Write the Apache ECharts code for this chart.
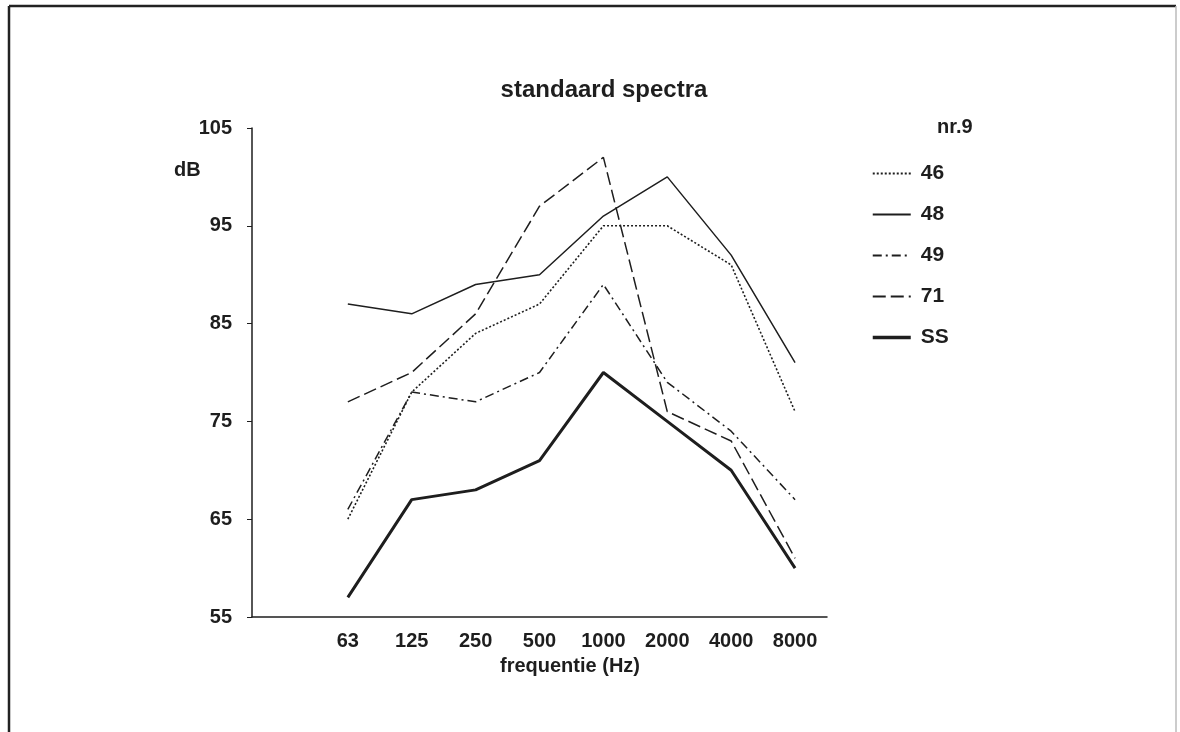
<!DOCTYPE html>
<html>
<head>
<meta charset="utf-8">
<script src="https://cdn.jsdelivr.net/npm/echarts@6/dist/echarts.min.js"></script>
<style>
html,body{margin:0;padding:0;background:#fff;}
#chart{width:1180px;height:732px;}
</style>
</head>
<body>
<div id="chart"></div>
<script>
// categories (first slot is an empty tick position)
const categories = ['', '63', '125', '250', '500', '1000', '2000', '4000', '8000'];
const s46 = [65, 78, 84, 87, 95, 95, 91, 76];
const s48 = [87, 86, 89, 90, 96, 100, 92, 81];
const s49 = [66, 78, 77, 80, 89, 79, 74, 67];
const s71 = [77, 80, 86, 97, 102, 76, 73, 61];
const sSS = [57, 67, 68, 71, 80, 75, 70, 60];
const seriesNames = ['46', '48', '49', '71', 'SS'];
const yTicks = { min: 55, max: 105, interval: 10 };

const FONT = '"Liberation Sans", Arial, sans-serif';
const INK = '#1e1e1e';

function mk(name, vals, width, dash) {
  return {
    name: name,
    type: 'line',
    data: [null].concat(vals),
    symbol: 'none',
    showSymbol: false,
    smooth: false,
    lineStyle: { color: INK, width: width, type: dash },
    itemStyle: { color: INK },
    emphasis: { disabled: true },
    z: name === 'SS' ? 3 : 2
  };
}

const chart = echarts.init(document.getElementById('chart'), null, { renderer: 'canvas' });
chart.setOption({
  animation: false,
  backgroundColor: '#fff',
  title: {
    text: 'standaard spectra',
    left: 599, top: 73, textAlign: 'center',
    textStyle: { fontFamily: FONT, fontWeight: 'bold', fontSize: 24, color: INK }
  },
  grid: { left: 252, right: 353, top: 128, bottom: 115, containLabel: false },
  xAxis: {
    type: 'category',
    data: categories,
    boundaryGap: true,
    axisLine: { lineStyle: { color: INK, width: 1.5 } },
    axisTick: { alignWithLabel: true, interval: 0, length: 5, lineStyle: { color: INK } },
    axisLabel: { interval: 0, margin: 14, fontFamily: FONT, fontWeight: 'bold', fontSize: 20, color: INK },
    splitLine: { show: false }
  },
  yAxis: {
    type: 'value',
    min: yTicks.min, max: yTicks.max, interval: yTicks.interval,
    axisLine: { show: true, lineStyle: { color: INK, width: 1.5 } },
    axisTick: { show: true, length: 5, lineStyle: { color: INK } },
    axisLabel: { margin: 20, fontFamily: FONT, fontWeight: 'bold', fontSize: 20, color: INK },
    splitLine: { show: false }
  },
  legend: {
    orient: 'vertical',
    left: 866, top: 158,
    itemWidth: 38, itemHeight: 12, itemGap: 20,
    data: seriesNames.map(function (n) {
      return n === 'SS' ? { name: n, lineStyle: { width: 3.5 } } : { name: n };
    }),
    selectedMode: false,
    itemStyle: { opacity: 0 },
    textStyle: { fontFamily: FONT, fontWeight: 'bold', fontSize: 21, color: INK, padding: [0, 0, 0, 5] }
  },
  graphic: [
    { type: 'line', shape: { x1: 9, y1: 6, x2: 1176, y2: 6 }, style: { stroke: '#222', lineWidth: 2.5 } },
    { type: 'line', shape: { x1: 9, y1: 6, x2: 9, y2: 732 }, style: { stroke: '#222', lineWidth: 2.5 } },
    { type: 'line', shape: { x1: 1176, y1: 6, x2: 1176, y2: 732 }, style: { stroke: '#bbb', lineWidth: 1.5 } },
    { type: 'text', left: 937, top: 117, style: { text: 'nr.9', font: 'bold 20px ' + FONT, fill: INK } },
    { type: 'text', left: 174, top: 160, style: { text: 'dB', font: 'bold 20px ' + FONT, fill: INK } },
    { type: 'text', left: 500, top: 656, style: { text: 'frequentie (Hz)', font: 'bold 20px ' + FONT, fill: INK } }
  ],
  series: [
    mk('46', s46, 1.6, [2, 2]),
    mk('48', s48, 1.5, 'solid'),
    mk('49', s49, 1.5, [9, 4, 2, 4]),
    mk('71', s71, 1.5, [13, 5]),
    mk('SS', sSS, 3, 'solid')
  ]
});
</script>
</body>
</html>
